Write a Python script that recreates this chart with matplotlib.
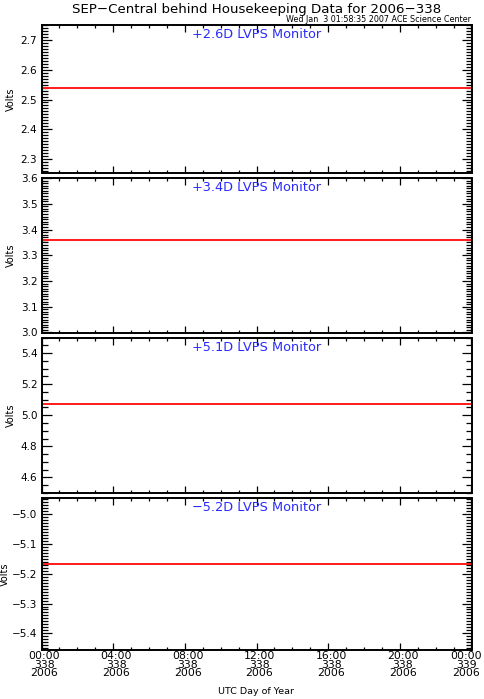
import matplotlib
matplotlib.use("Agg")
import matplotlib.pyplot as plt
from matplotlib.ticker import MultipleLocator, FixedLocator
from matplotlib.transforms import ScaledTranslation

plt.rcParams['font.family'] = ['DejaVu Sans']

# Data
hours = [0, 24]
panel_titles = ["+2.6D LVPS Monitor", "+3.4D LVPS Monitor", "+5.1D LVPS Monitor", "-5.2D LVPS Monitor"]
values_26 = [2.54, 2.54]
values_34 = [3.359, 3.359]
values_51 = [5.07, 5.07]
values_m52 = [-5.166, -5.166]
series = [values_26, values_34, values_51, values_m52]
ylims = [(2.253, 2.7505), (2.998, 3.602), (4.5, 5.5), (-5.456, -4.944)]
major_steps = [0.1, 0.1, 0.2, 0.1]
minor_steps = [0.01, 0.01, 0.05, 0.01]
xtick_hours = [0, 4, 8, 12, 16, 20, 24]
xtick_labels = ["00:00\n338\n2006", "04:00\n338\n2006", "08:00\n338\n2006", "12:00\n338\n2006",
                "16:00\n338\n2006", "20:00\n338\n2006", "00:00\n339\n2006"]

W, H = 484, 699
DPI = 100
fig = plt.figure(figsize=(W / DPI, H / DPI), dpi=DPI)

left = 41.5 / W
width = (471.5 - 41.5) / W
axw_px = 471.5 - 41.5
# panels (top_px, bottom_px)
panels_px = [(25, 173), (177.5, 333), (337.5, 493), (497.5, 650)]
ylabel_right_px = [15.5, 15.5, 15.5, 9.5]

for i, (tp, bp) in enumerate(panels_px):
    ax = fig.add_axes([left, 1 - bp / H, width, (bp - tp) / H])
    ax.plot(hours, series[i], color='#ff1a1a', lw=1.4)
    ax.set_xlim(0, 24)
    ax.set_ylim(*ylims[i])
    ax.xaxis.set_major_locator(FixedLocator(xtick_hours))
    ax.xaxis.set_minor_locator(MultipleLocator(1))
    ax.yaxis.set_major_locator(MultipleLocator(major_steps[i]))
    ax.yaxis.set_minor_locator(MultipleLocator(minor_steps[i]))
    ax.tick_params(which='both', direction='in', top=True, right=True, width=0.9, colors='black')
    ax.tick_params(which='major', length=5, labelsize=7.5)
    ax.tick_params(which='minor', length=2.5)
    ax.tick_params(axis='y', which='major', length=7, pad=3)
    ax.tick_params(axis='y', which='minor', length=4)
    ax.yaxis.set_major_formatter(matplotlib.ticker.FuncFormatter(
        lambda v, p: ("%.1f" % v).replace('-', '\u2212')))
    for s in ax.spines.values():
        s.set_linewidth(1.4)
    if i < 3:
        ax.set_xticklabels([])
    else:
        ax.set_xticklabels(xtick_labels, fontsize=7.8, linespacing=0.78)
        ax.tick_params(axis='x', pad=1)
        labs = ax.get_xticklabels()
        for j, lab in enumerate(labs):
            dx = 3 if j < len(labs) - 1 else -5
            lab.set_transform(lab.get_transform() + ScaledTranslation(dx / DPI, 0, fig.dpi_scale_trans))
    ax.set_ylabel("Volts", fontsize=7)
    ax.yaxis.set_label_coords((ylabel_right_px[i] - 41.5) / axw_px, 0.5)
    ax.text(0.5, 1 - 10 / (bp - tp), panel_titles[i].replace('-', '\u2212'),
            transform=ax.transAxes, ha='center', va='center', color='#2a2aff', fontsize=9.3)

fig.text(256.5 / W, 1 - 10 / H, "SEP\u2212Central behind Housekeeping Data for 2006\u2212338",
         ha='center', va='center', fontsize=9.6)
fig.text(471.5 / W, 1 - 20 / H, "Wed Jan  3 01:58:35 2007 ACE Science Center",
         ha='right', va='center', fontsize=5.8)
fig.text(256.5 / W, 1 - 692 / H, "UTC Day of Year", ha='center', va='center', fontsize=6.8)

fig.savefig("out.png", dpi=DPI, facecolor='white')
